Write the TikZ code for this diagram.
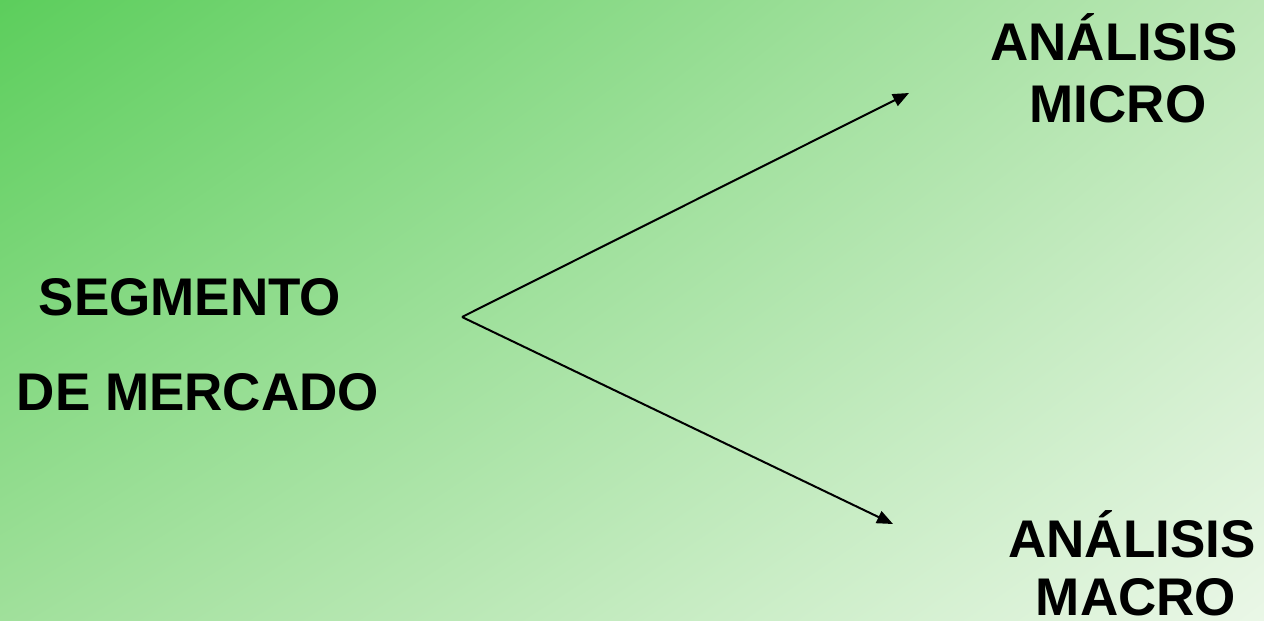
\documentclass[tikz,border=0pt]{standalone}
\usepackage{fontspec}
\setmainfont{Liberation Sans}
\usetikzlibrary{arrows.meta,positioning,shadings}
\definecolor{gTL}{RGB}{92,206,92}
\definecolor{gTR}{RGB}{188,231,183}
\definecolor{gBL}{RGB}{160,224,155}
\definecolor{gBR}{RGB}{234,247,231}

\begin{document}
\begin{tikzpicture}[x=1pt, y=-1pt,
  word/.style={anchor=base, inner sep=0pt, font=\fontsize{53}{60}\selectfont\bfseries},
  arr/.style={-{Triangle[length=16pt, width=13pt]}, line width=2pt}
]
\useasboundingbox (0,0) rectangle (1264,621);
\shade[upper left=gTL, upper right=gTR, lower left=gBL, lower right=gBR] (0,0) rectangle (1264,621);
\node[word] (seg) at (190,315) {SEGMENTO};
\node[word] (mer) at (198,410) {DE MERCADO};
\node[word] (anmi) at (1114,60) {ANÁLISIS};
\node[word] (micro) at (1118,122) {MICRO};
\node[word] (anma) at (1132,557) {ANÁLISIS};
\node[word] (macro) at (1136,615) {MACRO};
\coordinate (origin) at (462,317);
\coordinate (tipmi) at (909,93);
\coordinate (tipma) at (893,524);
\draw[arr] (origin) -- (tipmi);
\draw[arr] (origin) -- (tipma);
\end{tikzpicture}
\end{document}
